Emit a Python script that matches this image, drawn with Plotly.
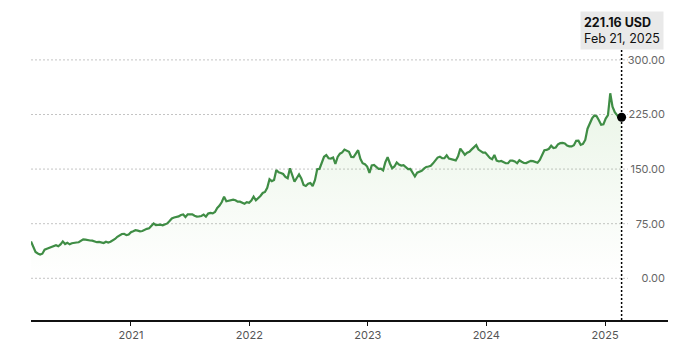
import pandas as pd
import plotly.graph_objects as go

# ---- data (weekly closes) ----
start_date = "2020-02-28"
prices = [
    50.6, 44.4, 36.1, 34.1, 32.7, 33.8, 39.3, 40.5, 42.0, 43.0,
    44.4, 45.5, 44.0, 46.6, 50.7, 47.1, 48.9, 46.7, 48.1, 49.1,
    49.2, 49.5, 51.2, 53.4, 53.2, 52.2, 51.9, 51.7, 50.2, 49.6,
    49.9, 49.3, 48.4, 50.2, 49.2, 50.2, 51.8, 54.0, 57.0, 59.5,
    60.9, 61.1, 59.2, 60.0, 63.2, 64.6, 66.1, 65.5, 64.4, 65.0,
    66.8, 67.9, 68.6, 72.5, 75.2, 73.0, 73.5, 73.6, 72.8, 74.2,
    75.4, 78.7, 82.2, 83.5, 84.0, 85.0, 87.0, 87.6, 84.2, 87.9,
    87.9, 87.9, 85.9, 84.8, 85.0, 85.6, 87.5, 84.8, 88.9, 89.7,
    89.2, 91.1, 96.6, 99.9, 104.8, 112.1, 105.8, 106.9, 107.6, 108.1,
    107.2, 105.2, 105.2, 103.9, 102.5, 104.6, 103.7, 106.9, 112.1, 107.2,
    109.8, 113.1, 117.2, 118.6, 124.3, 136.0, 133.4, 135.1, 148.8, 145.6,
    144.7, 143.3, 139.2, 137.4, 151.1, 140.6, 132.6, 137.8, 142.6, 137.1,
    128.3, 126.8, 129.8, 130.9, 126.8, 134.7, 149.9, 150.2, 159.8, 166.9,
    169.3, 164.9, 164.5, 166.0, 157.0, 166.7, 171.2, 172.8, 176.8, 175.2,
    173.7, 166.7, 166.4, 171.3, 176.0, 164.1, 158.0, 156.6, 153.5, 144.8,
    155.0, 155.6, 152.5, 150.2, 150.5, 148.1, 159.5, 166.4, 157.7, 151.1,
    153.6, 159.1, 156.2, 154.8, 155.4, 152.2, 149.9, 150.2, 144.9, 139.9,
    145.1, 146.3, 147.6, 150.6, 152.9, 153.6, 154.6, 157.9, 161.7, 165.8,
    167.1, 164.9, 165.0, 169.0, 164.5, 163.5, 162.8, 161.9, 167.6, 178.2,
    174.1, 169.7, 172.6, 173.9, 177.1, 180.4, 182.9, 176.8, 174.1, 172.6,
    172.6, 168.9, 165.3, 163.5, 169.4, 161.6, 160.5, 161.2, 160.1, 158.0,
    158.0, 161.6, 161.6, 160.5, 158.0, 162.1, 160.1, 158.4, 158.3, 160.1,
    161.4, 160.9, 160.2, 158.7, 162.5, 169.4, 175.9, 176.3, 177.9, 182.1,
    179.0, 179.7, 184.1, 185.6, 186.0, 185.2, 182.2, 181.2, 181.2, 182.7,
    188.9, 189.1, 183.4, 184.6, 190.0, 205.5, 212.1, 219.6, 223.5, 222.6,
    217.1, 210.9, 211.5, 219.4, 224.0, 254.2, 235.8, 228.1, 224.1, 219.5,
    221.16,
]
dates = pd.date_range(start_date, periods=len(prices), freq="7D")

y_ticks = [0, 75, 150, 225, 300]
x_ticks = ["2021-01-01", "2022-01-01", "2023-01-01", "2024-01-01", "2025-01-01"]
x_tick_labels = ["2021", "2022", "2023", "2024", "2025"]
last_label = "221.16 USD"
last_date_label = "Feb 21, 2025"
x_range = ["2020-02-28", "2025-07-14"]
y_range = [-57.3, 313.6]

LINE = "#3f8d45"
FONT = "Inter, Liberation Sans, Arial, sans-serif"

fig = go.Figure()
fig.add_trace(go.Scatter(
    x=dates, y=prices, mode="lines",
    line=dict(color=LINE, width=2.2),
    fill="tozeroy",
    fillgradient=dict(type="vertical", start=0, stop=260,
                      colorscale=[[0, "rgba(120,190,100,0)"],
                                  [1, "rgba(120,190,100,0.16)"]]),
    hoverinfo="skip", showlegend=False,
))
fig.add_trace(go.Scatter(
    x=[dates[-1]], y=[prices[-1]], mode="markers",
    marker=dict(color="black", size=9),
    hoverinfo="skip", showlegend=False,
))

shapes = []
for v in y_ticks:
    shapes.append(dict(type="line", xref="paper", yref="y", x0=0, x1=0.937,
                       y0=v, y1=v, layer="below",
                       line=dict(color="#c4c4c4", width=1, dash="2px,2px")))
shapes.append(dict(type="line", xref="x", yref="paper",
                   x0=dates[-1], x1=dates[-1], y0=0, y1=1,
                   line=dict(color="black", width=1.5, dash="2px,2px")))
fig.update_layout(shapes=shapes)

fig.add_annotation(
    x=dates[-1], y=1, xref="x", yref="paper",
    xanchor="center", yanchor="bottom", showarrow=False,
    text=f"<b>{last_label}</b><br>{last_date_label}",
    align="left", bgcolor="#e9e9e9", borderpad=3,
    font=dict(family=FONT, size=12.5, color="#111"),
)

# the page body adds an 8px offset; the figure size/margins compensate
fig.update_layout(
    width=672, height=347,
    margin=dict(l=23, r=12, t=42, b=35),
    paper_bgcolor="white", plot_bgcolor="white",
    font=dict(family=FONT),
    xaxis=dict(
        type="date", range=x_range,
        tickvals=x_ticks, ticktext=x_tick_labels,
        showgrid=False, zeroline=False,
        showline=True, linecolor="#111", linewidth=1.5,
        ticks="outside", ticklen=4, tickcolor="#111", tickwidth=1.2,
        tickfont=dict(size=11, color="#555", family=FONT),
    ),
    yaxis=dict(
        range=y_range, side="right",
        tickvals=y_ticks, tickformat=".2f",
        ticklabelposition="inside",
        showgrid=False, zeroline=False, showline=False, ticks="",
        tickfont=dict(size=11, color="#666", family=FONT),
    ),
)

fig.write_html("out.html")
